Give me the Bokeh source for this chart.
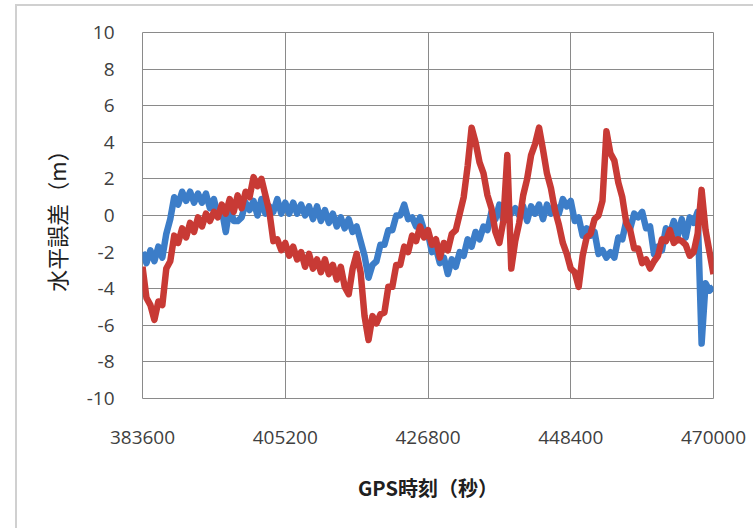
from bokeh.plotting import figure
from bokeh.models import FixedTicker, ColumnDataSource, CustomJSTickFormatter
from bokeh.embed import file_html
from bokeh.resources import INLINE

# GPS time samples (s), every 600 s
gps_time = list(range(383600, 470001, 600))

# horizontal error, series 1 (blue)
blue_err = [
    -2.0, -2.6, -1.9, -2.5, -1.7, -2.3, -1.0, -0.2, 1.0, 0.6,
    1.3, 0.8, 1.3, 0.7, 1.2, 0.7, 1.2, 0.4, 0.9, 0.0,
    0.3, -0.9, 0.5, -0.3, -0.3, -0.1, 0.7, 0.3, 0.8, 0.0,
    0.9, 0.1, 0.5, 0.2, 0.9, 0.1, 0.7, 0.1, 0.7, 0.1,
    0.6, 0.0, 0.5, -0.2, 0.5, -0.3, 0.3, -0.4, 0.1, -0.6,
    -0.1, -0.7, -0.2, -0.9, -0.6, -1.4, -2.2, -3.4, -2.7, -2.5,
    -1.6, -1.6, -0.8, -0.8, 0.0, 0.0, 0.6, -0.2, -0.1, -0.6,
    -0.1, -0.8, -1.0, -2.0, -1.8, -2.6, -2.3, -3.2, -2.4, -2.8,
    -2.0, -2.2, -1.3, -1.7, -0.9, -1.3, -0.6, -0.8, 0.2, -0.2,
    0.6, -0.3, 0.5, 0.1, 0.4, 0.0, 0.5, -0.3, 0.5, 0.1,
    0.6, -0.2, 0.6, 0.1, 0.5, 0.1, 0.9, 0.5, 0.8, -0.3,
    -0.1, -1.1, -0.7, -1.1, -0.9, -2.1, -1.9, -2.3, -2.0, -2.3,
    -1.2, -1.3, -0.3, -0.7, 0.1, -0.1, 0.2, -0.7, -0.6, -2.1,
    -1.7, -1.9, -0.7, -1.0, -0.3, -1.1, -0.2, -1.2, -0.1, -0.4,
    0.2, -7.0, -3.7, -4.1, -3.9,
]

# horizontal error, series 2 (red)
red_err = [
    -2.8, -4.5, -4.9, -5.7, -4.7, -4.9, -2.9, -2.5, -1.1, -1.5,
    -0.7, -1.2, -0.4, -0.9, -0.1, -0.6, 0.1, -0.3, 0.2, -0.1,
    0.6, 0.1, 0.9, 0.2, 1.1, 0.4, 1.3, 1.0, 2.1, 1.6,
    2.0, 1.1, 0.2, -1.4, -1.3, -1.9, -1.5, -2.2, -1.7, -2.4,
    -2.0, -2.8, -2.1, -2.9, -2.4, -3.1, -2.4, -3.2, -2.7, -3.5,
    -2.8, -3.9, -4.3, -2.9, -2.1, -3.1, -5.5, -6.8, -5.5, -5.9,
    -5.4, -5.3, -3.9, -3.9, -2.7, -2.7, -1.7, -2.0, -1.1, -1.4,
    -0.6, -1.2, -0.8, -1.6, -1.3, -2.3, -1.5, -1.9, -1.0, -0.8,
    0.1, 1.0, 2.7, 4.8, 4.0, 2.9, 2.3, 1.1, 0.4, -0.9,
    -1.5, -0.3, 3.3, -2.9, -1.4, -0.4, 1.1, 2.0, 3.3, 3.9,
    4.8, 3.6, 2.3, 1.5, 0.3, -0.5, -1.5, -2.1, -2.9, -3.1,
    -3.9, -2.2, -1.2, -1.0, -0.2, 0.0, 0.8, 4.6, 3.4, 3.0,
    1.8, 1.0, -0.4, -0.8, -1.8, -1.8, -2.6, -2.4, -2.9, -2.5,
    -2.2, -1.3, -1.4, -0.8, -1.5, -1.3, -1.4, -1.6, -2.2, -2.0,
    -1.0, 1.4, -0.8, -2.0, -3.2,
]

x_ticks = [383600, 405200, 426800, 448400, 470000]
y_ticks = [-10, -8, -6, -4, -2, 0, 2, 4, 6, 8, 10]

src = ColumnDataSource(dict(t=gps_time, b=blue_err, r=red_err))

p = figure(width=738, height=524, output_backend="svg", toolbar_location=None,
           x_range=(383600, 470000), y_range=(-10, 10),
           min_border_left=125, min_border_right=42, min_border_top=26,
           min_border_bottom=132)
p.styles = {"margin-left": "15px", "margin-top": "4px",
            "border-left": "2px solid #d0d0d0", "border-top": "2px solid #d0d0d0"}

p.line("t", "b", source=src, line_color="#3C7DC8", line_width=6.5, line_join="round")
p.line("t", "r", source=src, line_color="#C83A35", line_width=6.5, line_join="round")

p.xaxis.ticker = FixedTicker(ticks=x_ticks)
p.yaxis.ticker = FixedTicker(ticks=y_ticks)
p.xgrid.ticker = FixedTicker(ticks=x_ticks)
p.ygrid.ticker = FixedTicker(ticks=y_ticks)
p.xaxis.formatter = CustomJSTickFormatter(code="return String(tick);")
p.yaxis.formatter = CustomJSTickFormatter(code="return String(tick);")

for g in (p.xgrid, p.ygrid):
    g.grid_line_color = "#8a8a8a"
    g.grid_line_width = 1
p.outline_line_color = "#8a8a8a"
p.outline_line_width = 1

for ax in (p.xaxis, p.yaxis):
    ax.axis_line_color = None
    ax.major_tick_line_color = None
    ax.minor_tick_line_color = None
    ax.major_label_text_font = "Open Sans"
    ax.major_label_text_font_size = "19px"
    ax.major_label_text_color = "#404040"
    ax.axis_label_text_color = "#202020"
    ax.axis_label_text_font = "Noto Sans CJK JP"
    ax.axis_label_text_font_style = "normal"

p.xaxis.major_label_standoff = 26
p.yaxis.major_label_standoff = 22

p.xaxis.axis_label = "GPS時刻（秒）"
p.xaxis.axis_label_text_font_size = "20px"
p.xaxis.axis_label_text_font_style = "bold"
p.xaxis.axis_label_standoff = 26

p.yaxis.axis_label = "水平誤差（m）"
p.yaxis.axis_label_text_font_size = "22px"
p.yaxis.axis_label_standoff = 12

open("out.html", "w").write(file_html(p, INLINE))
